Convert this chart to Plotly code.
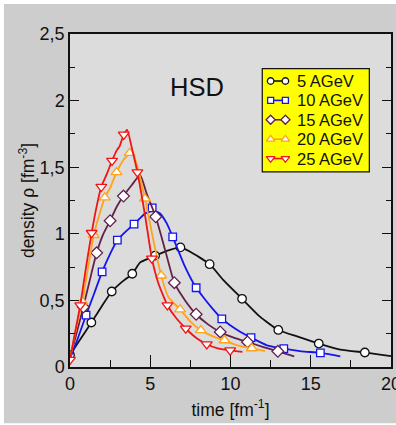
import plotly.graph_objects as go

# ---------------- data ----------------
labels = ["5 AGeV", "10 AGeV", "15 AGeV", "20 AGeV", "25 AGeV"]

# 5 AGeV
t5_line = [0, 0.6, 1.33, 2.0, 2.6, 3.24, 3.88, 4.37, 4.8, 5.3, 6.03, 6.88, 7.49, 8.7, 9.56,
           10.72, 11.85, 12.98, 14.24, 15.5, 16.84, 18.37, 19.2, 20.0]
r5_line = [0.09, 0.2, 0.334, 0.46, 0.567, 0.639, 0.70, 0.785, 0.81, 0.836, 0.872, 0.898, 0.865, 0.772, 0.652,
           0.512, 0.376, 0.278, 0.226, 0.176, 0.131, 0.109, 0.095, 0.082]
t5_mark = [0, 1.33, 2.6, 3.88, 5.3, 6.88, 8.7, 10.72, 12.98, 15.5, 18.37]
r5_mark = [0.09, 0.334, 0.567, 0.70, 0.836, 0.898, 0.772, 0.512, 0.278, 0.176, 0.109]

# 10 AGeV
t10_line = [0, 0.5, 1.0, 1.5, 2.0, 2.5, 2.95, 3.5, 3.99, 4.68, 4.99, 5.12, 5.61, 6.03, 6.4,
            7.17, 7.86, 8.21, 8.8, 9.46, 9.98, 10.6, 11.28, 12.27, 13.32, 14.43, 15.6, 16.84]
r10_line = [0.06, 0.22, 0.389, 0.55, 0.714, 0.85, 0.952, 1.02, 1.073, 1.153, 1.168, 1.175, 1.153, 1.078, 0.977,
            0.752, 0.595, 0.539, 0.45, 0.362, 0.313, 0.265, 0.221, 0.163, 0.138, 0.118, 0.106, 0.08]
t10_mark = [1.0, 2.0, 2.95, 3.99, 5.12, 6.4, 7.86, 9.46, 11.28, 13.32, 15.6]
r10_mark = [0.389, 0.714, 0.952, 1.073, 1.195, 0.977, 0.595, 0.362, 0.221, 0.138, 0.106]

# 15 AGeV
t15_line = [0, 0.4, 0.83, 1.25, 1.66, 2.08, 2.5, 2.91, 3.33, 3.85, 4.37, 4.78, 5.34, 5.93, 6.5,
            7.17, 7.86, 8.6, 9.36, 10.2, 11.06, 12.05, 12.95, 13.97]
r15_line = [0.07, 0.25, 0.45, 0.66, 0.857, 1.0, 1.098, 1.203, 1.283, 1.366, 1.44, 1.30, 1.128, 0.877, 0.633,
            0.50, 0.396, 0.32, 0.263, 0.22, 0.188, 0.15, 0.118, 0.08]
t15_mark = [0.83, 1.66, 2.5, 3.33, 5.34, 6.5, 7.86, 9.36, 11.06, 12.95]
r15_mark = [0.45, 0.857, 1.098, 1.283, 1.128, 0.633, 0.396, 0.263, 0.188, 0.118]

# 20 AGeV
t20_line = [0, 0.4, 0.77, 1.13, 1.48, 1.79, 2.17, 2.5, 2.9, 3.33, 3.72, 3.87, 4.2, 4.67, 5.2, 5.68,
            6.13, 6.86, 7.5, 8.15, 8.9, 9.63, 10.5, 11.33, 12.16]
r20_line = [0.06, 0.3, 0.49, 0.75, 0.99, 1.128, 1.272, 1.345, 1.462, 1.554, 1.606, 1.625, 1.504, 1.264, 0.95, 0.686,
            0.526, 0.432, 0.34, 0.276, 0.23, 0.2, 0.16, 0.14, 0.12]
t20_mark = [0.77, 1.48, 2.17, 2.9, 3.72, 4.67, 5.68, 6.86, 8.15, 9.63, 11.33]
r20_mark = [0.49, 0.99, 1.272, 1.462, 1.606, 1.264, 0.686, 0.432, 0.276, 0.2, 0.14]

# 25 AGeV
t25_line = [0, 0.3, 0.64, 1.0, 1.35, 1.65, 1.95, 2.31, 2.62, 2.93, 3.08, 3.35, 3.56, 3.9, 4.2,
            4.7, 5.1, 5.51, 6.07, 6.6, 7.21, 7.85, 8.52, 9.2, 9.98, 10.74]
r25_line = [0.055, 0.25, 0.464, 0.75, 1.007, 1.2, 1.353, 1.454, 1.549, 1.63, 1.654, 1.745, 1.78, 1.62, 1.462,
            1.12, 0.815, 0.627, 0.464, 0.37, 0.289, 0.22, 0.171, 0.14, 0.125, 0.113]
t25_mark = [0, 0.64, 1.35, 1.95, 2.62, 3.35, 4.2, 5.1, 6.07, 7.21, 8.52, 9.98]
r25_mark = [0.055, 0.464, 1.007, 1.353, 1.549, 1.745, 1.462, 0.815, 0.464, 0.289, 0.171, 0.125]

x_ticks = [0, 5, 10, 15, 20]
y_ticks = [0, 0.5, 1, 1.5, 2, 2.5]

# ---------------- styling ----------------
FONT = "Liberation Sans, Arial, sans-serif"
colors = ["#111111", "#1414ee", "#62204a", "#ffa31a", "#f01414"]
symbols = ["circle", "square", "diamond", "triangle-up", "triangle-down"]
msizes = [8.5, 7.5, 9, 9.5, 9.5]
leg_msizes = [6.5, 6, 7, 7.5, 7.5]

series = [
    (t5_line, r5_line, t5_mark, r5_mark),
    (t10_line, r10_line, t10_mark, r10_mark),
    (t15_line, r15_line, t15_mark, r15_mark),
    (t20_line, r20_line, t20_mark, r20_mark),
    (t25_line, r25_line, t25_mark, r25_mark),
]

fig = go.Figure()
for i, (tl, rl, tm, rm) in enumerate(series):
    fig.add_trace(go.Scatter(x=tl, y=rl, mode="lines", showlegend=False, name=labels[i],
                             line=dict(color=colors[i], width=1.8, shape="spline", smoothing=0.5),
                             hoverinfo="skip"))
    fig.add_trace(go.Scatter(x=tm, y=rm, mode="markers", showlegend=False, name=labels[i],
                             marker=dict(symbol=symbols[i], size=msizes[i], color="white",
                                         line=dict(color=colors[i], width=1.3))))

# ---- legend box (yellow, framed) drawn in the plot's own scale ----
LEG_X0, LEG_X1, LEG_Y0, LEG_Y1 = 11.98, 18.65, 1.465, 2.24   # box corners (axis units)
LEG_SYM = (12.5, 13.42)      # legend symbol: two markers joined by a line
LEG_TXT_X = 14.0
LEG_ROW0, LEG_ROW_STEP = 2.147, 0.1455

fig.add_shape(type="rect", xref="x", yref="y", x0=LEG_X0, x1=LEG_X1, y0=LEG_Y0, y1=LEG_Y1,
              fillcolor="#ffff00", line=dict(color="#111111", width=1.2), layer="below")
for i, lab in enumerate(labels):
    ry = LEG_ROW0 - i * LEG_ROW_STEP
    fig.add_trace(go.Scatter(x=list(LEG_SYM), y=[ry, ry], mode="lines+markers", showlegend=False,
                             hoverinfo="skip",
                             line=dict(color=colors[i], width=1.6),
                             marker=dict(symbol=symbols[i], size=leg_msizes[i], color="white",
                                         line=dict(color=colors[i], width=1.3))))
    fig.add_annotation(x=LEG_TXT_X, y=ry, text=lab, showarrow=False, xanchor="left", yanchor="middle",
                       font=dict(size=16.5, color="#111111", family=FONT))

fig.add_annotation(x=7.92, y=2.10, text="HSD", showarrow=False,
                   font=dict(size=25.5, color="#111111", family=FONT))

# white edge strips of the original scan
for (x0, x1, y0, y1) in [(-0.3, -0.2058, -0.3, 1.2), (-0.3, 1.1, 1.090, 1.2), (-0.3, 1.1, -0.3, -0.169)]:
    fig.add_shape(type="rect", xref="paper", yref="paper", x0=x0, x1=x1, y0=y0, y1=y1,
                  fillcolor="white", line=dict(width=0), layer="above")

fig.update_layout(
    width=396, height=425, autosize=False,
    margin=dict(l=70, r=5, t=34, b=58),
    paper_bgcolor="#cdcdcd", plot_bgcolor="#dcdcdc",
    separators=", ",
    showlegend=False,
    font=dict(family=FONT, size=18, color="#111111"),
    xaxis=dict(range=[0, 20], tickvals=x_ticks, ticks="inside", ticklen=12, tickwidth=1.2,
               tickcolor="#111111", showline=True, linecolor="#111111", linewidth=1.5,
               mirror=True, showgrid=False, zeroline=False, automargin=False,
               tickfont=dict(size=18), ticklabeloverflow="allow",
               minor=dict(dtick=2.5, ticks="inside", ticklen=7, tickcolor="#111111", showgrid=False),
               title=dict(text="time [fm<sup>-1</sup>]", font=dict(size=17.5), standoff=10)),
    yaxis=dict(range=[0, 2.5], tickvals=y_ticks, ticks="inside", ticklen=9, tickwidth=1.2,
               tickcolor="#111111", showline=True, linecolor="#111111", linewidth=1.5,
               mirror="ticks", showgrid=False, zeroline=False, automargin=False,
               tickfont=dict(size=18),
               minor=dict(dtick=0.25, ticks="inside", ticklen=5, tickcolor="#111111", showgrid=False),
               title=dict(text="density ρ [fm<sup>-3</sup>]", font=dict(size=17.5), standoff=0)),
)

fig.write_html("out.html", config={"displayModeBar": False},
               post_script="document.body.style.margin='0';document.body.style.overflow='hidden';")
